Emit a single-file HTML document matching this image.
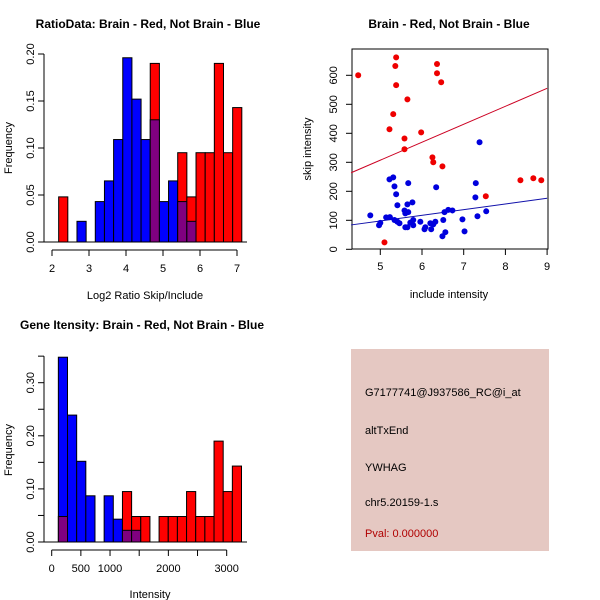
<!DOCTYPE html>
<html><head><meta charset="utf-8"><style>
body{margin:0;background:#fff}
svg{display:block;font-family:"Liberation Sans",sans-serif}
</style></head><body>
<svg id="s" width="600" height="600">
<rect width="600" height="600" fill="#fff"/>
<text x="148" y="28" font-size="12" font-weight="bold" text-anchor="middle">RatioData: Brain - Red, Not Brain - Blue</text>
<text x="449" y="28" font-size="12" font-weight="bold" text-anchor="middle">Brain - Red, Not Brain - Blue</text>
<text x="142" y="329" font-size="12" font-weight="bold" text-anchor="middle">Gene Itensity: Brain - Red, Not Brain - Blue</text>
<text x="145" y="299" font-size="11" text-anchor="middle">Log2 Ratio Skip/Include</text>
<text x="12" y="148" font-size="11" text-anchor="middle" transform="rotate(-90 12 148)">Frequency</text>
<text x="449" y="298" font-size="11" text-anchor="middle">include intensity</text>
<text x="311" y="149" font-size="11" text-anchor="middle" transform="rotate(-90 311 149)">skip intensity</text>
<text x="150" y="598" font-size="11" text-anchor="middle">Intensity</text>
<text x="12" y="450" font-size="11" text-anchor="middle" transform="rotate(-90 12 450)">Frequency</text>
<g>
<rect x="351" y="349" width="198" height="202" fill="#e5c8c2"/>
<text x="365" y="396" font-size="11">G7177741@J937586_RC@i_at</text>
<text x="365" y="434" font-size="11">altTxEnd</text>
<text x="365" y="471" font-size="11">YWHAG</text>
<text x="365" y="506" font-size="11">chr5.20159-1.s</text>
<text x="365" y="537" font-size="11" fill="#b00000">Pval: 0.000000</text>
</g>
</svg>
<script>
const ratioStart = 2.18, ratioBinWidth = 0.2475;
const ratioBlue = [0,0,0.022,0,0.043,0.065,0.109,0.196,0.152,0.109,0.13,0.043,0.065,0.043,0.022,0,0,0,0,0];
const ratioRed  = [0.048,0,0,0,0,0,0,0,0,0,0.19,0,0,0.095,0.048,0.095,0.095,0.19,0.095,0.143];
const ratioXTicks = [2,3,4,5,6,7];
const ratioYTicks = ["0.00","0.05","0.10","0.15","0.20"];

const intStart = 114, intBinWidth = 157;
const intBlue = [0.348,0.239,0.152,0.087,0,0.087,0.043,0.022,0.022,0,0,0,0,0,0,0,0,0,0,0];
const intRed  = [0.048,0,0,0,0,0,0,0.095,0.048,0.048,0,0.048,0.048,0.048,0.095,0.048,0.048,0.19,0.095,0.143];
const intXTicks = [0,500,1000,1500,2000,2500,3000];
const intXLabels = ["0","500","1000","","2000","","3000"];
const intYTicks = ["0.00","0.10","0.20","0.30"];

const redX = [4.47,5.38,5.36,5.38,5.65,5.31,5.22,5.58,5.58,5.98,6.36,6.36,6.46,6.25,6.27,6.49,5.10,7.53,8.36,8.67,8.86];
const redY = [600,662,632,566,517,466,414,382,345,403,639,607,576,317,300,286,24,183,238,245,238];
const blueX = [4.76,5.0,4.97,5.14,5.23,5.22,5.31,5.34,5.38,5.41,5.34,5.41,5.46,5.6,5.58,5.65,5.67,5.67,5.6,5.65,5.72,5.77,5.79,5.79,5.96,6.06,6.08,6.2,6.22,6.27,6.32,6.34,6.51,6.54,6.63,6.73,6.49,6.56,6.97,7.02,7.29,7.28,7.33,7.38,7.54];
const blueY = [117,91,83,110,111,241,248,217,190,152,101,95,90,124,134,155,228,128,76,76,92,162,101,83,95,69,76,90,69,86,95,214,101,128,136,134,45,59,103,62,228,179,114,369,131];
const redLine = [264,555];   // y at x=4.3 and x=9
const blueLine = [84,176];
const scXTicks = [5,6,7,8,9];
const scYTicks = [0,100,200,300,400,500,600];

const NS="http://www.w3.org/2000/svg", svg=document.getElementById('s');
function el(t,a,p){const e=document.createElementNS(NS,t);for(const k in a)e.setAttribute(k,a[k]);(p||svg).appendChild(e);return e;}
function txt(x,y,s,rot,anchor){const e=el('text',{x:x,y:y,'font-size':11,'text-anchor':anchor||'middle'});if(rot)e.setAttribute('transform','rotate(-90 '+x+' '+y+')');e.textContent=s;return e;}

function hist(start,bw,blue,red,sx,sy,name){
  const g=el('g',{});
  
  
  for(let i=0;i<blue.length;i++){
    const x0=sx(start+i*bw), x1=sx(start+(i+1)*bw), b=blue[i], r=red[i];
    const lo=Math.min(b,r), hi=Math.max(b,r);
    if(hi>0){
      const r1=el('rect',{x:x0,y:sy(hi),width:x1-x0,height:sy(0)-sy(hi),fill:r>=b?'#ff0000':'#0000ff',stroke:'#000','stroke-width':1},g);
      
      
    }
    if(lo>0){
      const r2=el('rect',{x:x0,y:sy(lo),width:x1-x0,height:sy(0)-sy(lo),fill:'#800080',stroke:'#000','stroke-width':1},g);
      
      
    }
  }
}

// Ratio histogram
{
  const sx=v=>52+(v-2)*37, sy=v=>242-v*940;
  hist(ratioStart,ratioBinWidth,ratioBlue,ratioRed,sx,sy,'ratio');
  const ax=el('g',{stroke:'#000',fill:'none'});
  
  
  el('line',{x1:sx(2),x2:sx(7),y1:250,y2:250},ax);
  ratioXTicks.forEach(v=>{el('line',{x1:sx(v),x2:sx(v),y1:250,y2:256},ax);txt(sx(v),272,String(v));});
  const ay=el('g',{stroke:'#000',fill:'none'});
  
  
  el('line',{x1:44,x2:44,y1:sy(0),y2:sy(0.2)},ay);
  ratioYTicks.forEach(s=>{const v=+s;el('line',{x1:38,x2:44,y1:sy(v),y2:sy(v)},ay);txt(34,sy(v),s,true);});
  el('line',{x1:44,x2:247,y1:242,y2:242,stroke:'#000'});
}

// Intensity histogram
{
  const sx=v=>51.7+v*0.05833, sy=v=>542-v*531;
  hist(intStart,intBinWidth,intBlue,intRed,sx,sy,'intensity');
  const ax=el('g',{stroke:'#000',fill:'none'});
  
  
  el('line',{x1:sx(0),x2:sx(3000),y1:550,y2:550},ax);
  intXTicks.forEach((v,i)=>{el('line',{x1:sx(v),x2:sx(v),y1:550,y2:556},ax);if(intXLabels[i])txt(sx(v),572,intXLabels[i]);});
  const ay=el('g',{stroke:'#000',fill:'none'});
  
  
  el('line',{x1:44,x2:44,y1:sy(0),y2:sy(0.35)},ay);
  [0,0.05,0.1,0.15,0.2,0.25,0.3,0.35].forEach(v=>el('line',{x1:38,x2:44,y1:sy(v),y2:sy(v)},ay));
  intYTicks.forEach(s=>{txt(34,sy(+s),s,true);});
  el('line',{x1:44,x2:247,y1:542,y2:542,stroke:'#000'});
}

// Scatter
{
  const sx=v=>380.3+(v-5)*41.7, sy=v=>249.3-v*0.29;
  el('rect',{x:352,y:49,width:196,height:200,fill:'none',stroke:'#000'});
  const ax=el('g',{stroke:'#000'});
  
  
  scXTicks.forEach(v=>{el('line',{x1:sx(v),x2:sx(v),y1:249,y2:255},ax);txt(sx(v),270,String(v));});
  const ay=el('g',{stroke:'#000'});
  
  
  scYTicks.forEach(v=>{el('line',{x1:346,x2:352,y1:sy(v),y2:sy(v)},ay);txt(337,sy(v),String(v),true);});
  const rl=el('line',{x1:sx(4.3),y1:sy(redLine[0]),x2:sx(9),y2:sy(redLine[1]),stroke:'#cc0022','stroke-width':1});
  
  
  const bl=el('line',{x1:sx(4.3),y1:sy(blueLine[0]),x2:sx(9),y2:sy(blueLine[1]),stroke:'#1010aa','stroke-width':1});
  
  
  redX.forEach((x,i)=>{const c=el('circle',{cx:sx(x),cy:sy(redY[i]),r:3,fill:'#ee0000'});
    
    });
  blueX.forEach((x,i)=>{const c=el('circle',{cx:sx(x),cy:sy(blueY[i]),r:3,fill:'#0000dd'});
    
    });
}
</script>
</body></html>
